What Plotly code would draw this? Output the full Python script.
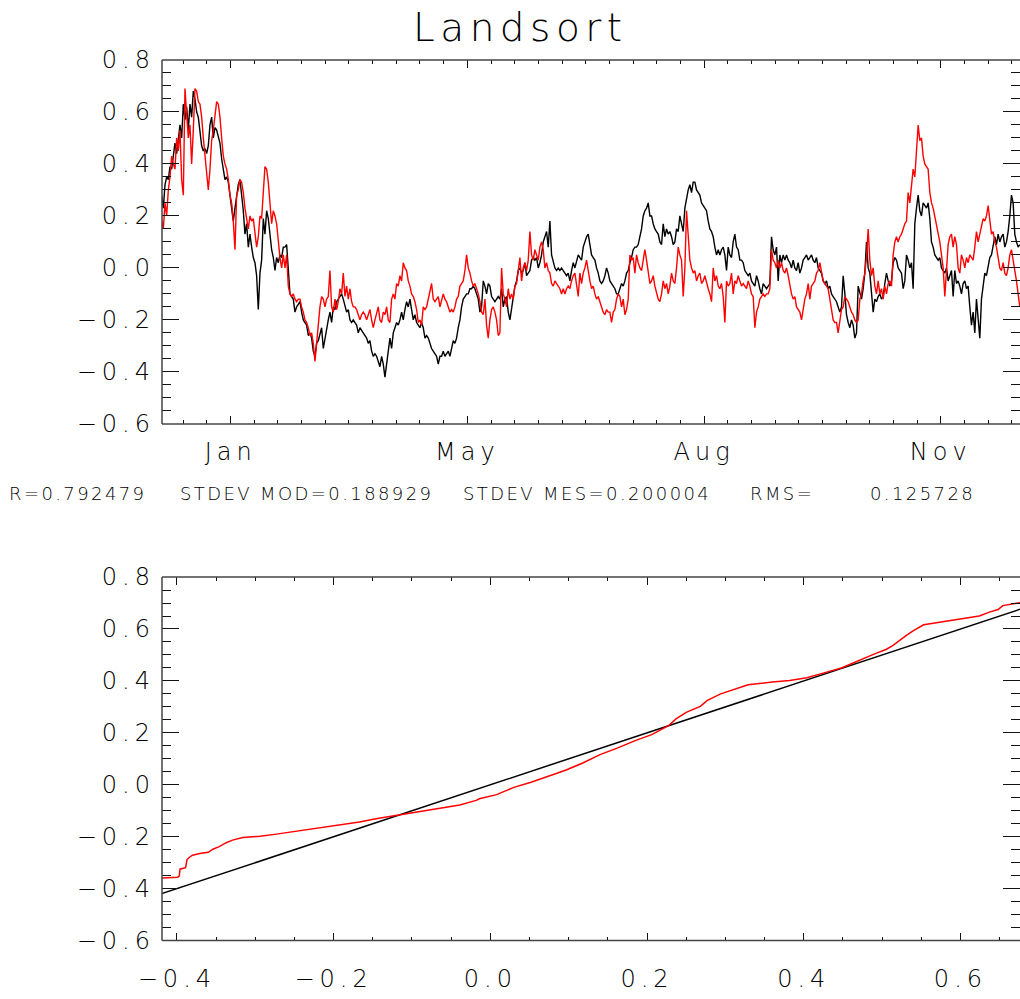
import numpy as np
import plotly.graph_objects as go

# ---------------------------------------------------------------------------
# Sea level at Landsort (m): observations (black) and model (red).
# One sample every DT_DAYS, the first one falling just before 1 January.
# ---------------------------------------------------------------------------
T0_DAYS = -0.85
DT_DAYS = 0.704

sea_level_obs = [
    0.25, 0.28, 0.23, 0.32, 0.35, 0.34, 0.39, 0.38, 0.43, 0.48,
    0.44, 0.50, 0.55, 0.50, 0.63, 0.57, 0.62, 0.53, 0.63, 0.58,
    0.68, 0.65, 0.60, 0.58, 0.52, 0.47, 0.45, 0.46, 0.44, 0.47,
    0.55, 0.58, 0.50, 0.54, 0.53, 0.50, 0.48, 0.42, 0.38, 0.34,
    0.35, 0.33, 0.28, 0.22, 0.18, 0.23, 0.27, 0.32, 0.34, 0.28,
    0.22, 0.13, 0.17, 0.08, 0.13, 0.08, 0.04, 0.02, -0.03, -0.16,
    -0.02, 0.03, 0.19, 0.13, 0.22, 0.19, 0.13, 0.07, 0.04, -0.01,
    0.04, 0.02, 0.05, 0.04, 0.08, 0.08, 0.09, -0.02, -0.10, -0.11,
    -0.12, -0.17, -0.15, -0.14, -0.13, -0.17, -0.20, -0.21, -0.22, -0.26,
    -0.25, -0.27, -0.32, -0.34, -0.29, -0.28, -0.25, -0.23, -0.31, -0.27,
    -0.23, -0.20, -0.17, -0.21, -0.15, -0.16, -0.13, -0.12, -0.11, -0.10,
    -0.12, -0.15, -0.17, -0.16, -0.20, -0.21, -0.20, -0.21, -0.22, -0.25,
    -0.23, -0.24, -0.25, -0.26, -0.27, -0.29,
    -0.28, -0.32, -0.34, -0.33, -0.34, -0.36, -0.38, -0.34, -0.37, -0.42,
    -0.37, -0.32, -0.27, -0.31, -0.25, -0.23, -0.21, -0.22, -0.20, -0.17,
    -0.20, -0.16, -0.13, -0.15, -0.12, -0.16, -0.20, -0.18, -0.21, -0.22,
    -0.23, -0.21, -0.23, -0.27, -0.26, -0.27, -0.29, -0.31, -0.32, -0.33,
    -0.34, -0.37, -0.34, -0.34, -0.32, -0.34, -0.33, -0.32, -0.34, -0.31,
    -0.28, -0.29, -0.27, -0.23, -0.20, -0.15, -0.12, -0.11, -0.10, -0.10,
    -0.08, -0.08, -0.07, -0.08, -0.10, -0.12, -0.17, -0.15, -0.05, -0.07,
    -0.10, -0.06, -0.07, -0.11, -0.12, -0.13, -0.12, -0.11, -0.12, -0.08,
    -0.15, -0.12, -0.11, -0.17, -0.20, -0.15, -0.10, -0.07, -0.05, -0.01,
    0.00, -0.02, -0.01, 0.02, -0.03, -0.02, -0.01, 0.03, 0.04, 0.03,
    0.04, 0.00, 0.02, 0.05, 0.10, 0.12, 0.14, 0.08, 0.18, 0.05,
    0.02, 0.00, -0.01, 0.00, -0.01, 0.00, -0.01, -0.02, -0.03, -0.02,
    -0.05, -0.01, 0.02, 0.00, 0.03, 0.05,
    0.04, 0.03, 0.08, 0.10, 0.12, 0.13, 0.09, 0.05, 0.04, 0.03,
    0.00, -0.02, -0.05, -0.06, -0.05, -0.03, 0.00, -0.02, -0.05, -0.06,
    -0.07, -0.08, -0.10, -0.10, -0.08, -0.06, -0.07, -0.05, -0.02, -0.01,
    0.02, 0.04, 0.07, 0.08, 0.08, 0.09, 0.12, 0.15, 0.20, 0.22,
    0.23, 0.25, 0.20, 0.20, 0.17, 0.15, 0.14, 0.13, 0.10, 0.09,
    0.17, 0.12, 0.15, 0.13, 0.14, 0.12, 0.09, 0.10, 0.15, 0.14,
    0.20, 0.17, 0.14, 0.23, 0.27, 0.30, 0.32, 0.29, 0.33, 0.33,
    0.30, 0.29, 0.28, 0.25, 0.24, 0.23, 0.22, 0.18, 0.15, 0.14,
    0.12, 0.08, 0.05, 0.07, 0.05, 0.07, 0.08, 0.05, -0.01, 0.08,
    0.05, 0.04, 0.10, 0.13, 0.08, 0.07, 0.03, 0.03, 0.02, -0.01,
    -0.02, -0.03, -0.02, -0.05, -0.06, -0.07, -0.03, -0.05, -0.08, -0.10,
    -0.06, -0.07, -0.08, -0.07, -0.06, 0.12, 0.07, 0.05, 0.08, -0.05,
    0.05, 0.02, 0.05, 0.03, 0.05, 0.03,
    0.02, 0.00, 0.03, 0.00, -0.01, 0.02, -0.02, 0.00, 0.03, 0.04,
    0.05, 0.03, 0.04, 0.05, 0.03, 0.02, 0.04, 0.00, -0.01, -0.02,
    -0.05, -0.06, -0.05, -0.08, -0.07, -0.10, -0.11, -0.12, -0.13, -0.15,
    -0.17, -0.15, -0.03, -0.10, -0.18, -0.21, -0.23, -0.20, -0.22, -0.27,
    -0.25, -0.07, -0.10, -0.12, -0.08, -0.02, 0.10, 0.00, -0.02, -0.10,
    -0.17, -0.12, -0.13, -0.11, -0.10, -0.12, -0.11, -0.06, -0.02, -0.05,
    -0.07, -0.05, 0.02, 0.04, 0.03, 0.00, -0.01, -0.02, -0.08, -0.05,
    0.05, 0.03, 0.00, 0.02, -0.08, 0.17, 0.23, 0.28, 0.22, 0.20,
    0.25, 0.24, 0.23, 0.25, 0.19, 0.10, 0.08, 0.05, 0.04, 0.03,
    0.04, 0.00, -0.01, -0.02, 0.00, -0.05, -0.03, -0.01, -0.11, -0.01,
    -0.06, -0.05, -0.07, -0.10, -0.06, -0.05, -0.08, -0.07, -0.15, -0.22,
    -0.17, -0.25, -0.12, -0.20, -0.27, -0.12, -0.06, -0.02, -0.03, 0.00,
    0.04, 0.05, 0.08, 0.12, 0.09, 0.13, 0.10, 0.12, 0.13, 0.08,
    0.10, 0.14, 0.20, 0.28, 0.25, 0.13, 0.10, 0.08, 0.09,
]

sea_level_mod = [
    0.20, 0.18, 0.15, 0.25, 0.20, 0.30, 0.35, 0.43, 0.40, 0.38,
    0.50, 0.45, 0.53, 0.34, 0.28, 0.69, 0.59, 0.50, 0.55, 0.40,
    0.53, 0.69, 0.68, 0.64, 0.63, 0.58, 0.50, 0.44, 0.38, 0.30,
    0.38, 0.49, 0.53, 0.58, 0.64, 0.63, 0.58, 0.50, 0.43, 0.40,
    0.38, 0.34, 0.28, 0.25, 0.18, 0.07, 0.28, 0.30, 0.34, 0.33,
    0.29, 0.23, 0.19, 0.15, 0.20, 0.18, 0.19, 0.13, 0.08, 0.12,
    0.20, 0.19, 0.28, 0.39, 0.38, 0.33, 0.25, 0.17, 0.22, 0.20,
    0.17, 0.10, 0.04, 0.00, 0.05, 0.00, 0.05, -0.07, -0.10, -0.11,
    -0.10, -0.12, -0.13, -0.12, -0.12, -0.15, -0.17, -0.20, -0.21, -0.23,
    -0.26, -0.25, -0.29, -0.36, -0.28, -0.20, -0.15, -0.11, -0.12, -0.15,
    -0.12, -0.11, -0.01, -0.15, -0.17, -0.12, -0.16, -0.13, -0.08, -0.10,
    -0.02, -0.11, -0.07, -0.12, -0.08, -0.13, -0.15, -0.15, -0.16, -0.18,
    -0.20, -0.18, -0.17, -0.18, -0.20, -0.18,
    -0.16, -0.20, -0.23, -0.20, -0.17, -0.15, -0.20, -0.21, -0.17, -0.18,
    -0.15, -0.20, -0.21, -0.12, -0.10, -0.12, -0.06, -0.07, -0.03, -0.05,
    0.02, 0.00, -0.01, -0.05, -0.07, -0.10, -0.11, -0.13, -0.16, -0.21,
    -0.20, -0.22, -0.15, -0.16, -0.15, -0.12, -0.10, -0.06, -0.12, -0.13,
    -0.12, -0.11, -0.15, -0.12, -0.10, -0.12, -0.13, -0.15, -0.17, -0.16,
    -0.17, -0.15, -0.12, -0.11, -0.07, -0.06, -0.05, -0.01, 0.05, 0.00,
    -0.02, -0.05, -0.07, -0.06, -0.08, -0.10, -0.13, -0.17, -0.18, -0.12,
    -0.22, -0.27, -0.20, -0.16, -0.15, -0.17, -0.20, -0.26, -0.25, 0.00,
    -0.10, -0.12, -0.15, -0.08, -0.12, -0.10, -0.12, -0.07, -0.06, 0.00,
    0.04, -0.05, 0.00, 0.02, -0.01, 0.03, 0.14, 0.05, 0.03, 0.07,
    0.05, 0.03, 0.08, 0.10, 0.07, 0.00, 0.02, -0.01, -0.02, -0.06,
    -0.07, -0.05, -0.06, -0.07, -0.08, -0.10, -0.08, -0.10, -0.08, -0.07,
    -0.08, -0.05, -0.03, -0.02, -0.06, -0.11,
    -0.02, -0.06, -0.02, 0.00, 0.03, -0.02, -0.05, -0.08, -0.07, -0.10,
    -0.12, -0.11, -0.13, -0.15, -0.17, -0.18, -0.16, -0.17, -0.17, -0.21,
    -0.17, -0.16, -0.12, -0.10, -0.11, -0.15, -0.12, -0.18, -0.16, -0.12,
    0.05, 0.03, 0.04, -0.02, 0.05, 0.02, 0.00, -0.01, 0.04, 0.07,
    0.03, -0.01, -0.06, -0.05, -0.03, -0.07, -0.10, -0.12, -0.13, -0.10,
    -0.05, -0.08, -0.06, -0.10, -0.07, -0.02, -0.05, -0.06, 0.00, 0.08,
    0.05, 0.03, -0.11, 0.00, 0.22, 0.10, 0.03, 0.00, -0.02, -0.01,
    -0.05, -0.03, -0.02, -0.06, -0.05, -0.03, -0.06, -0.08, -0.10, -0.13,
    0.00, -0.05, -0.03, -0.07, -0.08, -0.06, -0.11, -0.21, -0.05, -0.07,
    -0.06, -0.02, -0.10, -0.05, -0.06, -0.03, -0.05, -0.07, -0.06, -0.07,
    -0.08, -0.05, -0.07, -0.10, -0.11, -0.23, -0.17, -0.15, -0.12, -0.11,
    -0.10, -0.11, -0.10, -0.10, -0.08, 0.07, 0.03, 0.02, 0.00, 0.03,
    0.00, 0.02, -0.01, -0.02, 0.00, -0.03,
    -0.07, -0.10, -0.12, -0.11, -0.15, -0.16, -0.17, -0.20, -0.16, -0.12,
    -0.10, -0.06, -0.12, -0.07, -0.06, -0.05, -0.02, -0.01, 0.02, -0.02,
    -0.05, -0.06, -0.07, -0.08, -0.12, -0.16, -0.20, -0.21, -0.21, -0.25,
    -0.20, -0.16, -0.15, -0.11, -0.12, -0.13, -0.15, -0.17, -0.18, -0.20,
    -0.21, -0.20, -0.12, -0.10, -0.05, -0.02, 0.04, 0.15, 0.03, -0.03,
    0.00, -0.07, -0.10, -0.05, -0.10, -0.08, -0.12, -0.07, -0.10, -0.06,
    -0.05, -0.07, 0.05, 0.10, 0.12, 0.10, 0.12, 0.13, 0.15, 0.17,
    0.18, 0.29, 0.25, 0.32, 0.38, 0.35, 0.45, 0.55, 0.49, 0.50,
    0.43, 0.40, 0.39, 0.38, 0.29, 0.25, 0.23, 0.20, 0.17, 0.14,
    0.10, 0.05, 0.00, -0.11, -0.01, 0.09, 0.12, 0.13, 0.08, 0.12,
    0.09, 0.00, -0.02, 0.05, 0.03, 0.00, 0.04, 0.02, 0.05, 0.04,
    0.03, 0.08, 0.14, 0.10, 0.13, 0.17, 0.19, 0.18, 0.20, 0.24,
    0.17, 0.13, 0.14, 0.10, 0.08, 0.04, 0.00, -0.01, 0.02, -0.02,
    -0.03, 0.00, 0.05, 0.07, 0.03, 0.00, -0.05, -0.10, -0.15,
]

# Axis labelling of the time panel (day of year of each labelled tick)
MONTH_TICK_DAYS = [29, 129, 229, 329]
MONTH_TICK_TEXT = ["Jan", "May", "Aug", "Nov"]
DAY_RANGE = [0, 362.5]

# Quantile-quantile curve: sorted observations vs sorted model
qq_obs = [
    -0.419, -0.399, -0.397, -0.396, -0.389, -0.387, -0.384, -0.380, -0.371, -0.360,
    -0.354, -0.346, -0.337, -0.329, -0.316, -0.294, -0.273, -0.252, -0.231, -0.209,
    -0.188, -0.167, -0.146, -0.124, -0.103, -0.082, -0.061, -0.039, -0.018, -0.014,
    0.008, 0.030, 0.052, 0.074, 0.096, 0.118, 0.140, 0.162, 0.184, 0.206,
    0.219, 0.228, 0.237, 0.250, 0.268, 0.277, 0.294, 0.312, 0.329, 0.360,
    0.382, 0.404, 0.413, 0.426, 0.448, 0.470, 0.492, 0.505, 0.514, 0.531,
    0.540, 0.553, 0.566, 0.580, 0.602, 0.624, 0.637, 0.648, 0.654, 0.683,
]
qq_mod = [
    -0.359, -0.356, -0.352, -0.325, -0.319, -0.288, -0.279, -0.271, -0.265, -0.260,
    -0.248, -0.238, -0.223, -0.213, -0.203, -0.198, -0.190, -0.181, -0.173, -0.163,
    -0.154, -0.143, -0.131, -0.120, -0.110, -0.100, -0.090, -0.078, -0.060, -0.054,
    -0.038, -0.010, 0.010, 0.034, 0.056, 0.084, 0.116, 0.141, 0.169, 0.193,
    0.216, 0.229, 0.254, 0.279, 0.302, 0.325, 0.350, 0.369, 0.385, 0.396,
    0.402, 0.412, 0.421, 0.431, 0.450, 0.479, 0.506, 0.521, 0.537, 0.575,
    0.594, 0.616, 0.622, 0.627, 0.640, 0.650, 0.665, 0.675, 0.690, 0.705,
]
OBS_EXTENT = [-0.42, 0.683]
QQ_X_RANGE = [-0.419, 0.676]
LEVEL_RANGE = [-0.6, 0.8]

STATS_TEXT = [
    ("R=0.792479", 7),
    ("STDEV MOD=0.188929", 178),
    ("STDEV MES=0.200004", 461),
    ("RMS=", 748),
    ("0.125728", 868),
]

# ---------------------------------------------------------------------------
W, H = 1020, 999
ML = 162
PW = W - ML
FONT = "DejaVu Sans"
INK = "#000000"
FRAME = "#444444"

days = T0_DAYS + DT_DAYS * np.arange(len(sea_level_obs))

fig = go.Figure()
fig.add_trace(go.Scatter(x=days, y=sea_level_obs, mode="lines",
                         line=dict(color="black", width=1.4),
                         xaxis="x", yaxis="y", showlegend=False))
fig.add_trace(go.Scatter(x=days, y=sea_level_mod, mode="lines",
                         line=dict(color="#ff0000", width=1.4),
                         xaxis="x", yaxis="y", showlegend=False))
fig.add_trace(go.Scatter(x=OBS_EXTENT, y=OBS_EXTENT, mode="lines",
                         line=dict(color="black", width=1.5),
                         xaxis="x2", yaxis="y2", showlegend=False))
fig.add_trace(go.Scatter(x=qq_obs, y=qq_mod, mode="lines",
                         line=dict(color="#ff0000", width=1.5),
                         xaxis="x2", yaxis="y2", showlegend=False))


def py(px):
    """paper y coordinate from a pixel row"""
    return 1 - px / H


def px_x(px):
    """paper x coordinate from a pixel column"""
    return (px - ML) / PW


tick_font = dict(family=FONT, size=24, color=INK, weight=300)
common = dict(showgrid=False, zeroline=False, showline=False, mirror="ticks",
              ticks="inside", tickcolor="#111111", tickwidth=1, tickfont=tick_font)

fig.update_layout(
    width=W, height=H,
    margin=dict(l=ML, r=0, t=0, b=0),
    paper_bgcolor="white", plot_bgcolor="white",
    xaxis=dict(domain=[0, 1], anchor="y", range=DAY_RANGE,
               tickmode="array", tickvals=MONTH_TICK_DAYS, ticktext=MONTH_TICK_TEXT,
               ticklen=8, ticklabelstandoff=11,
               minor=dict(ticks="inside", ticklen=4, dtick=10, tick0=9, tickcolor="#111111"),
               **common),
    yaxis=dict(domain=[py(421.7), py(47.3)], anchor="x", range=LEVEL_RANGE,
               tickmode="linear", tick0=-0.6, dtick=0.2, tickformat=".1f",
               ticklen=17, ticklabelstandoff=6,
               minor=dict(ticks="inside", ticklen=9, dtick=0.05, tick0=0, tickcolor="#111111"),
               **common),
    xaxis2=dict(domain=[0, 1], anchor="y2", range=QQ_X_RANGE,
                tickmode="linear", tick0=0, dtick=0.2, tickformat=".1f",
                ticklen=8, ticklabelstandoff=21,
                minor=dict(ticks="inside", ticklen=4, dtick=0.05, tick0=0, tickcolor="#111111"),
                **common),
    yaxis2=dict(domain=[py(953.3), py(579.3)], anchor="x2", range=LEVEL_RANGE,
                tickmode="linear", tick0=-0.6, dtick=0.2, tickformat=".1f",
                ticklen=17, ticklabelstandoff=6,
                minor=dict(ticks="inside", ticklen=9, dtick=0.05, tick0=0, tickcolor="#111111"),
                **common),
)

# Frame: left, top and bottom edges of both panels
shapes = []
for xa, ya in (("x", "y"), ("x2", "y2")):
    for x0, y0, x1, y1 in ((0, 0, 0, 1), (0, 1, 1, 1), (0, 0, 1, 0)):
        shapes.append(dict(type="line", xref=f"{xa} domain", yref=f"{ya} domain",
                           x0=x0, y0=y0, x1=x1, y1=y1,
                           line=dict(color=FRAME, width=1.5)))
fig.update_layout(shapes=shapes)

annotations = [
    dict(text="Landsort", xref="paper", yref="paper", x=px_x(520), y=py(14),
         xanchor="center", yanchor="middle", showarrow=False,
         font=dict(family=FONT, size=39, color=INK, weight=300)),
]
for text, left in STATS_TEXT:
    annotations.append(dict(text=text, xref="paper", yref="paper", align="left",
                            x=px_x(left), y=py(493), xanchor="left", yanchor="middle",
                            showarrow=False,
                            font=dict(family=FONT, size=18, color=INK, weight=300)))
fig.update_layout(annotations=annotations)

# Wide, stroked lettering: open up the character spacing of all text
LETTER_SPACING_JS = """
var css = document.createElement('style');
css.textContent =
  '.xtick text, .ytick text, .x2tick text, .y2tick text {letter-spacing: 5px;}' +
  '.annotation[data-index="0"] text {letter-spacing: 5.5px;}' +
  '.annotation:not([data-index="0"]) text {letter-spacing: 2.4px;}';
document.head.appendChild(css);
"""

fig.write_html("out.html", post_script=LETTER_SPACING_JS)
